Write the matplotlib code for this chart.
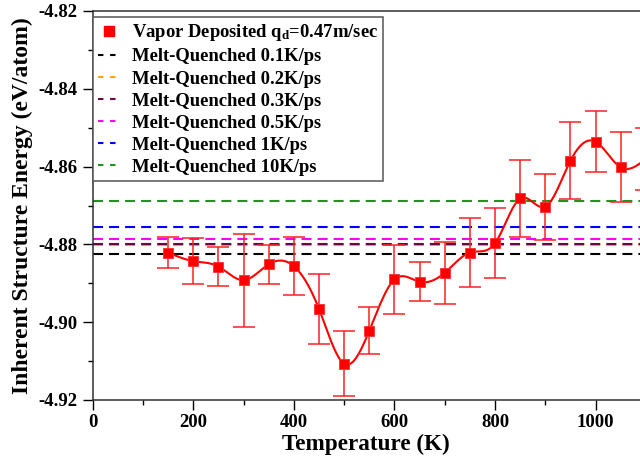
import numpy as np
import matplotlib
matplotlib.use('Agg')
import matplotlib.pyplot as plt
from matplotlib.lines import Line2D
from matplotlib.ticker import MultipleLocator, FormatStrFormatter

plt.rcParams['font.family'] = 'Liberation Serif'
plt.rcParams['font.weight'] = 'bold'
plt.rcParams['mathtext.fontset'] = 'custom'
plt.rcParams['mathtext.rm'] = 'Liberation Serif:bold'
plt.rcParams['mathtext.it'] = 'Liberation Serif:bold'

# vapor deposited glass: temperature, inherent structure energy, error
temps = [150, 200, 250, 300, 350, 400, 450, 500, 550, 600,
         650, 700, 750, 800, 850, 900, 950, 1000, 1050, 1100]
energy = [-4.8821, -4.8843, -4.8857, -4.8892, -4.8851, -4.8856, -4.8966,
          -4.9107, -4.9022, -4.8890, -4.8896, -4.8873, -4.8821, -4.8797,
          -4.8682, -4.8703, -4.8585, -4.8536, -4.8602, -4.8580]
energy_err = [0.004, 0.006, 0.005, 0.012, 0.005, 0.0075, 0.009, 0.0084,
              0.006, 0.0088, 0.005, 0.008, 0.0089, 0.009, 0.010, 0.0085,
              0.0099, 0.0079, 0.009, 0.008]

# melt-quenched reference levels
mq_labels = ['Melt-Quenched 0.1K/ps', 'Melt-Quenched 0.2K/ps',
             'Melt-Quenched 0.3K/ps', 'Melt-Quenched 0.5K/ps',
             'Melt-Quenched 1K/ps', 'Melt-Quenched 10K/ps']
mq_energy = [-4.8824, -4.8801, -4.8798, -4.8787, -4.8754, -4.8689]
mq_colors = ['black', '#FFA500', '#670748', '#FF00FF', '#0000FF', '#1E961E']


def natural_spline(x, y, xs):
    # plain natural cubic spline, just for drawing the smooth curve
    x = np.asarray(x, float)
    y = np.asarray(y, float)
    n = len(x)
    h = np.diff(x)
    A = np.zeros((n, n))
    r = np.zeros(n)
    A[0, 0] = A[-1, -1] = 1
    for i in range(1, n - 1):
        A[i, i - 1] = h[i - 1]
        A[i, i] = 2 * (h[i - 1] + h[i])
        A[i, i + 1] = h[i]
        r[i] = 3 * ((y[i + 1] - y[i]) / h[i] - (y[i] - y[i - 1]) / h[i - 1])
    c = np.linalg.solve(A, r)
    b = (y[1:] - y[:-1]) / h - h * (2 * c[:-1] + c[1:]) / 3
    d = (c[1:] - c[:-1]) / (3 * h)
    idx = np.clip(np.searchsorted(x, xs) - 1, 0, n - 2)
    dx = xs - x[idx]
    return y[idx] + b[idx] * dx + c[idx] * dx ** 2 + d[idx] * dx ** 3


fig = plt.figure(figsize=(6.4, 4.57), dpi=100)
# the original plot runs past the right edge of the picture (cropped),
# so the axes are made wider than the figure: 0.5029 px per K
px_per_k = 0.5029
xmax = 1150
ax = fig.add_axes([92.7 / 640, 1 - 400 / 457, xmax * px_per_k / 640, 389 / 457])

for val, col in zip(mq_energy, mq_colors):
    ax.axhline(val, color=col, lw=1.5, dashes=(4.8, 2.9), zorder=2)

xs = np.linspace(temps[0], temps[-1], 600)
ax.plot(xs, natural_spline(temps, energy, xs), color='red', lw=1.5, zorder=3)
ax.errorbar(temps, energy, yerr=energy_err, fmt='none', ecolor='#FF2020',
            elinewidth=1.1, capsize=7.6, capthick=1.1, zorder=3)
ax.plot(temps, energy, 's', color='red', ms=7.5, mec='#FF3030', mew=0.6,
        zorder=4)

ax.set_xlim(0, xmax)
ax.set_ylim(-4.92, -4.82)
ax.xaxis.set_major_locator(MultipleLocator(200))
ax.xaxis.set_minor_locator(MultipleLocator(100))
ax.yaxis.set_major_locator(MultipleLocator(0.02))
ax.yaxis.set_minor_locator(MultipleLocator(0.01))
ax.yaxis.set_major_formatter(FormatStrFormatter('%.2f'))
ax.tick_params(which='major', direction='out', length=7.5, width=1,
               labelsize=13.5, pad=3.5, top=False, right=False)
ax.tick_params(axis='x', which='major', pad=2.5)
ax.tick_params(which='minor', direction='out', length=3.8, width=1,
               top=False, right=False)
for sp in ax.spines.values():
    sp.set_linewidth(1.1)
    sp.set_color('#303030')

# x label centred on the visible part of the axis
ax.set_xlabel('Temperature (K)', fontsize=16.7, fontweight='bold')
ax.xaxis.set_label_coords(((92.7 + 640) / 2 - 92.7) / (xmax * px_per_k), -0.088)
ax.set_ylabel('Inherent Structure Energy (eV/atom)', fontsize=17,
              fontweight='bold', labelpad=4)

handles = [Line2D([], [], ls='none', marker='s', color='red', ms=7.5)]
labels = [r'Vapor Deposited q$_\mathrm{d}$=0.47m/sec']
for lab, col in zip(mq_labels, mq_colors):
    handles.append(Line2D([], [], color=col, lw=1.5, dashes=(2.6, 3.2)))
    labels.append(lab)
leg = ax.legend(handles, labels, loc='upper left', bbox_to_anchor=(0.0, 0.985),
                borderaxespad=0, fontsize=13.4, handlelength=1.2,
                handletextpad=0.6, labelspacing=0.27, borderpad=0.3,
                fancybox=False, framealpha=1)
leg.get_frame().set_edgecolor('#555555')
leg.get_frame().set_linewidth(1.1)

plt.savefig('out.png', dpi=100)
